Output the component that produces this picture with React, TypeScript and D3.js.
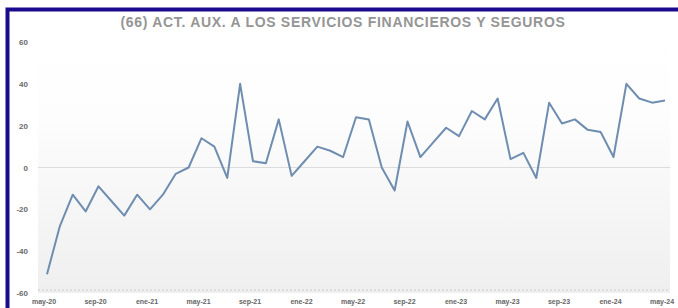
import * as d3 from "d3";
import { useEffect, useRef } from "react";

const title = "(66) ACT. AUX. A LOS SERVICIOS FINANCIEROS Y SEGUROS";

// monthly values, may-20 .. may-24
const values = [
  -51, -28, -13, -21, -9, -16, -23, -13, -20, -13, -3, 0, 14, 10, -5, 40, 3, 2,
  23, -4, 3, 10, 8, 5, 24, 23, 0, -11, 22, 5, 12, 19, 15, 27, 23, 33, 4, 7, -5,
  31, 21, 23, 18, 17, 5, 40, 33, 31, 32,
];

const tickLabels = [
  "may-20", "sep-20", "ene-21", "may-21", "sep-21", "ene-22", "may-22",
  "sep-22", "ene-23", "may-23", "sep-23", "ene-24", "may-24",
];

const yTicks = [60, 40, 20, 0, -20, -40, -60];

const W = 678;
const H = 308;

export default function App() {
  const ref = useRef<SVGSVGElement>(null);

  useEffect(() => {
    document.body.style.margin = "0";
    const svg = d3.select(ref.current);
    svg.selectAll("*").remove();

    const x = d3.scaleLinear().domain([0, values.length - 1]).range([47, 665]);
    const y = d3.scaleLinear().domain([-60, 60]).range([293, 42]);

    const defs = svg.append("defs");
    const grad = defs
      .append("linearGradient")
      .attr("id", "bg")
      .attr("x1", 0)
      .attr("y1", 0)
      .attr("x2", 0)
      .attr("y2", 1);
    grad.append("stop").attr("offset", "0%").attr("stop-color", "#ffffff");
    grad.append("stop").attr("offset", "30%").attr("stop-color", "#fdfdfd");
    grad.append("stop").attr("offset", "100%").attr("stop-color", "#efefef");

    svg.append("rect").attr("width", W).attr("height", H).attr("fill", "#ffffff");

    // plot area
    svg
      .append("rect")
      .attr("x", 38)
      .attr("y", y(60))
      .attr("width", 632)
      .attr("height", y(-60) - y(60))
      .attr("fill", "url(#bg)");

    // zero line
    svg
      .append("line")
      .attr("x1", 38)
      .attr("x2", 670)
      .attr("y1", y(0))
      .attr("y2", y(0))
      .attr("stroke", "#dcdcdc")
      .attr("stroke-width", 1);

    // bottom dotted axis
    svg
      .append("line")
      .attr("x1", 38)
      .attr("x2", 670)
      .attr("y1", y(-60) - 3)
      .attr("y2", y(-60) - 3)
      .attr("stroke", "#c8c8c8")
      .attr("stroke-dasharray", "2,2")
      .attr("stroke-width", 1);

    // y labels
    svg
      .append("g")
      .selectAll("text")
      .data(yTicks)
      .enter()
      .append("text")
      .attr("x", 28)
      .attr("y", (d) => y(d) + 3)
      .attr("text-anchor", "end")
      .attr("font-family", "Liberation Sans, Arial, sans-serif")
      .attr("font-size", 8)
      .attr("font-weight", "bold")
      .attr("fill", "#6a6a6a")
      .text((d) => d);

    // x labels every 4 months
    svg
      .append("g")
      .selectAll("text")
      .data(tickLabels)
      .enter()
      .append("text")
      .attr("x", (d, i) => x(i * 4) - 3)
      .attr("y", 304)
      .attr("text-anchor", "middle")
      .attr("font-family", "Liberation Sans, Arial, sans-serif")
      .attr("font-size", 7)
      .attr("font-weight", "bold")
      .attr("fill", "#666666")
      .text((d) => d);

    const line = d3
      .line<number>()
      .x((d, i) => x(i))
      .y((d) => y(d));

    svg
      .append("path")
      .datum(values)
      .attr("d", line)
      .attr("fill", "none")
      .attr("stroke", "#6e8db0")
      .attr("stroke-width", 2)
      .attr("stroke-linejoin", "round");

    // title
    svg
      .append("text")
      .attr("x", 343)
      .attr("y", 27)
      .attr("text-anchor", "middle")
      .attr("font-family", "Liberation Sans, Arial, sans-serif")
      .attr("font-size", 14)
      .attr("font-weight", "bold")
      .attr("letter-spacing", 0.7)
      .attr("fill", "#959595")
      .text(title);

    // frame (only left and top edges visible)
    svg
      .append("rect")
      .attr("x", 7.5)
      .attr("y", 9.5)
      .attr("width", 720)
      .attr("height", 340)
      .attr("fill", "none")
      .attr("stroke", "#1a0b8c")
      .attr("stroke-width", 4);
  }, []);

  return (
    <svg
      ref={ref}
      width={W}
      height={H}
      style={{ position: "absolute", left: 0, top: 0 }}
    />
  );
}
